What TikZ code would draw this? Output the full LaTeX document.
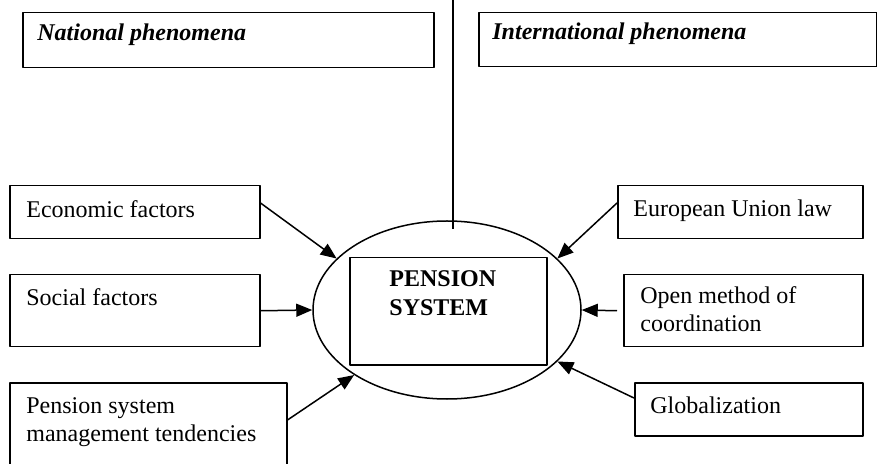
\documentclass[tikz,border=0pt]{standalone}
\usepackage{fontspec}
\setmainfont{Liberation Serif}
\usetikzlibrary{calc}
\usetikzlibrary{arrows.meta}
\usetikzlibrary{shapes.geometric}

\begin{document}
\begin{tikzpicture}[x=0.5pt, y=-0.5pt, line join=round,
    box/.style={draw, line width=0.75pt, anchor=north west, inner sep=0pt},
    txt/.style={anchor=base west, inner sep=0pt, align=left, font=\fontsize{12}{14}\selectfont},
    arr/.style={line width=0.75pt, -{Triangle[length=8pt,width=6.5pt]}}]
        \useasboundingbox (0,0) rectangle (877,464);
        \clip (0,0) rectangle (877,464);

        % headings
        \node[box, minimum width=205.5pt, minimum height=27.5pt] (nat) at (22,12) {};
        \node[txt, font=\fontsize{12}{14}\selectfont\bfseries\itshape] (natt) at ($(nat.north west)+(15,29)$) {National phenomena};
        \node[box, minimum width=199pt, minimum height=27pt] (intl) at (478,12) {};
        \node[txt, font=\fontsize{12}{14}\selectfont\bfseries\itshape] (intlt) at ($(intl.north west)+(14,28)$) {International phenomena};
        \coordinate (divtop) at (453,0);
        \coordinate (divbot) at (453,229);
        \draw[line width=0.75pt] (divtop) -- (divbot);

        % centre
        \node[draw, ellipse, line width=0.75pt, minimum width=134pt, minimum height=89pt, inner sep=0pt] (ell) at (447,310) {};
        \node[box, minimum width=98.5pt, minimum height=53.5pt] (core) at (349,257) {};
        % base of a two-line node = last line
        \node[txt, font=\fontsize{12}{14}\selectfont\bfseries] (coret) at ($(core.north west)+(40,58)$) {PENSION\\SYSTEM};

        % national factors
        \node[box, minimum width=125pt, minimum height=26.5pt] (eco) at (9,185) {};
        \node[txt] (ecot) at ($(eco.north west)+(17,33)$) {Economic factors};
        \node[box, minimum width=125pt, minimum height=36pt] (soc) at (9,274) {};
        \node[txt] (soct) at ($(soc.north west)+(17,32)$) {Social factors};
        \node[box, minimum width=138.5pt, minimum height=50pt] (pst) at (9,382) {};
        \node[txt] (pstt) at ($(pst.north west)+(17,59)$) {Pension system\\management tendencies};

        % international factors
        \node[box, minimum width=122.5pt, minimum height=26.5pt] (eul) at (617,185) {};
        \node[txt] (eult) at ($(eul.north west)+(16,32)$) {European Union law};
        \node[box, minimum width=119.5pt, minimum height=36pt] (omc) at (623,274) {};
        \node[txt] (omct) at ($(omc.north west)+(17,58)$) {Open method of\\coordination};
        \node[box, minimum width=114pt, minimum height=26.5pt] (glob) at (634,382) {};
        \node[txt] (globt) at ($(glob.north west)+(16,31)$) {Globalization};

        \draw[arr] ($(eco.north east)+(0,18)$) -- (ell.155);
        \draw[arr] (soc.east) -- (ell.west);
        \draw[arr] ($(pst.north east)+(0,38)$) -- (ell.215);
        \draw[arr] ($(eul.north west)+(0,18)$) -- (ell.25);
        \draw[arr] ($(omc.west)+(-6,0)$) -- (ell.east);
        \draw[arr] ($(glob.north west)+(0,16)$) -- (ell.335);
\end{tikzpicture}
\end{document}
